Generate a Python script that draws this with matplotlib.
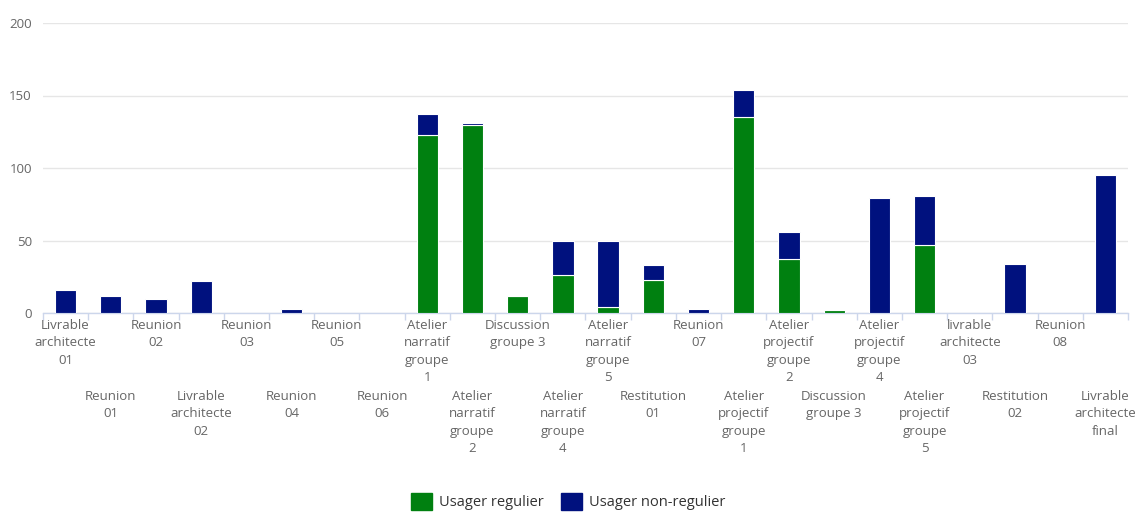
import matplotlib
matplotlib.use("Agg")
import matplotlib.pyplot as plt
import matplotlib.transforms as mtransforms
from matplotlib.patches import Patch
import numpy as np

categories = [
    "Livrable\narchitecte\n01", "Reunion\n01", "Reunion\n02", "Livrable\narchitecte\n02",
    "Reunion\n03", "Reunion\n04", "Reunion\n05", "Reunion\n06",
    "Atelier\nnarratif\ngroupe\n1", "Atelier\nnarratif\ngroupe\n2", "Discussion\ngroupe 3",
    "Atelier\nnarratif\ngroupe\n4", "Atelier\nnarratif\ngroupe\n5", "Restitution\n01",
    "Reunion\n07", "Atelier\nprojectif\ngroupe\n1", "Atelier\nprojectif\ngroupe\n2",
    "Discussion\ngroupe 3", "Atelier\nprojectif\ngroupe\n4", "Atelier\nprojectif\ngroupe\n5",
    "livrable\narchitecte\n03", "Restitution\n02", "Reunion\n08", "Livrable\narchitecte\nfinal",
]
usager_regulier = [0, 0, 0, 0, 0, 0, 0, 0, 123, 130, 12, 26, 4, 23, 0, 135, 37, 2, 0, 47, 0, 0, 0, 0]
usager_non_regulier = [16, 12, 10, 22, 0, 3, 0, 0, 14, 1, 0, 24, 46, 10, 3, 19, 19, 0, 79, 34, 0, 34, 0, 95]
yticks = [0, 50, 100, 150, 200]
series_names = ["Usager regulier", "Usager non-regulier"]

GREEN = "#008010"
NAVY = "#00117e"
plt.rcParams["font.family"] = ["Open Sans", "DejaVu Sans"]

W, H = 1137, 513
fig = plt.figure(figsize=(W / 100, H / 100), dpi=100)
ax = fig.add_axes([43 / W, 1 - 313 / H, (1128 - 43) / W, (313 - 23) / H])

x = np.arange(len(categories))
reg = np.array(usager_regulier)
non = np.array(usager_non_regulier)
ax.bar(x, reg, width=0.47, color=GREEN, edgecolor="white", linewidth=0.8, zorder=3)
ax.bar(x, non, width=0.47, bottom=reg, color=NAVY, edgecolor="white", linewidth=0.8, zorder=3)

ax.set_xlim(-0.5, len(categories) - 0.5)
ax.set_ylim(0, 200)
ax.set_yticks(yticks)
ax.set_yticklabels([str(v) for v in yticks], fontsize=9.5, color="#666666")
ax.tick_params(axis="y", length=0, pad=8)
ax.grid(axis="y", color="#e6e6e6", linewidth=1, zorder=0)
for s in ["top", "right", "left"]:
    ax.spines[s].set_visible(False)
ax.spines["bottom"].set_color("#ccd6eb")
ax.spines["bottom"].set_linewidth(1)

ax.set_xticks(x)
ax.set_xticklabels([])
ax.tick_params(axis="x", which="major", length=0)
ax.set_xticks(np.arange(-0.5, len(categories), 1), minor=True)
ax.tick_params(axis="x", which="minor", length=5, color="#ccd6eb", width=1)

base = ax.get_xaxis_transform()
for i, lab in enumerate(categories):
    off_px = 6 if i % 2 == 0 else 77
    tr = mtransforms.offset_copy(base, fig=fig, x=0, y=-off_px, units="dots")
    ax.text(i, 0, lab, transform=tr, ha="center", va="top", fontsize=9.5,
            color="#666666", linespacing=1.43, multialignment="center")

handles = [Patch(facecolor=GREEN, edgecolor=GREEN), Patch(facecolor=NAVY, edgecolor=NAVY)]
fig.legend(handles, series_names, loc="lower center", bbox_to_anchor=(0.5, -0.02), ncol=2,
           frameon=False, fontsize=10.5, labelcolor="#333333", handlelength=1.4,
           handleheight=1.4, columnspacing=1.2, handletextpad=0.5)

fig.savefig("out.png", dpi=100)
